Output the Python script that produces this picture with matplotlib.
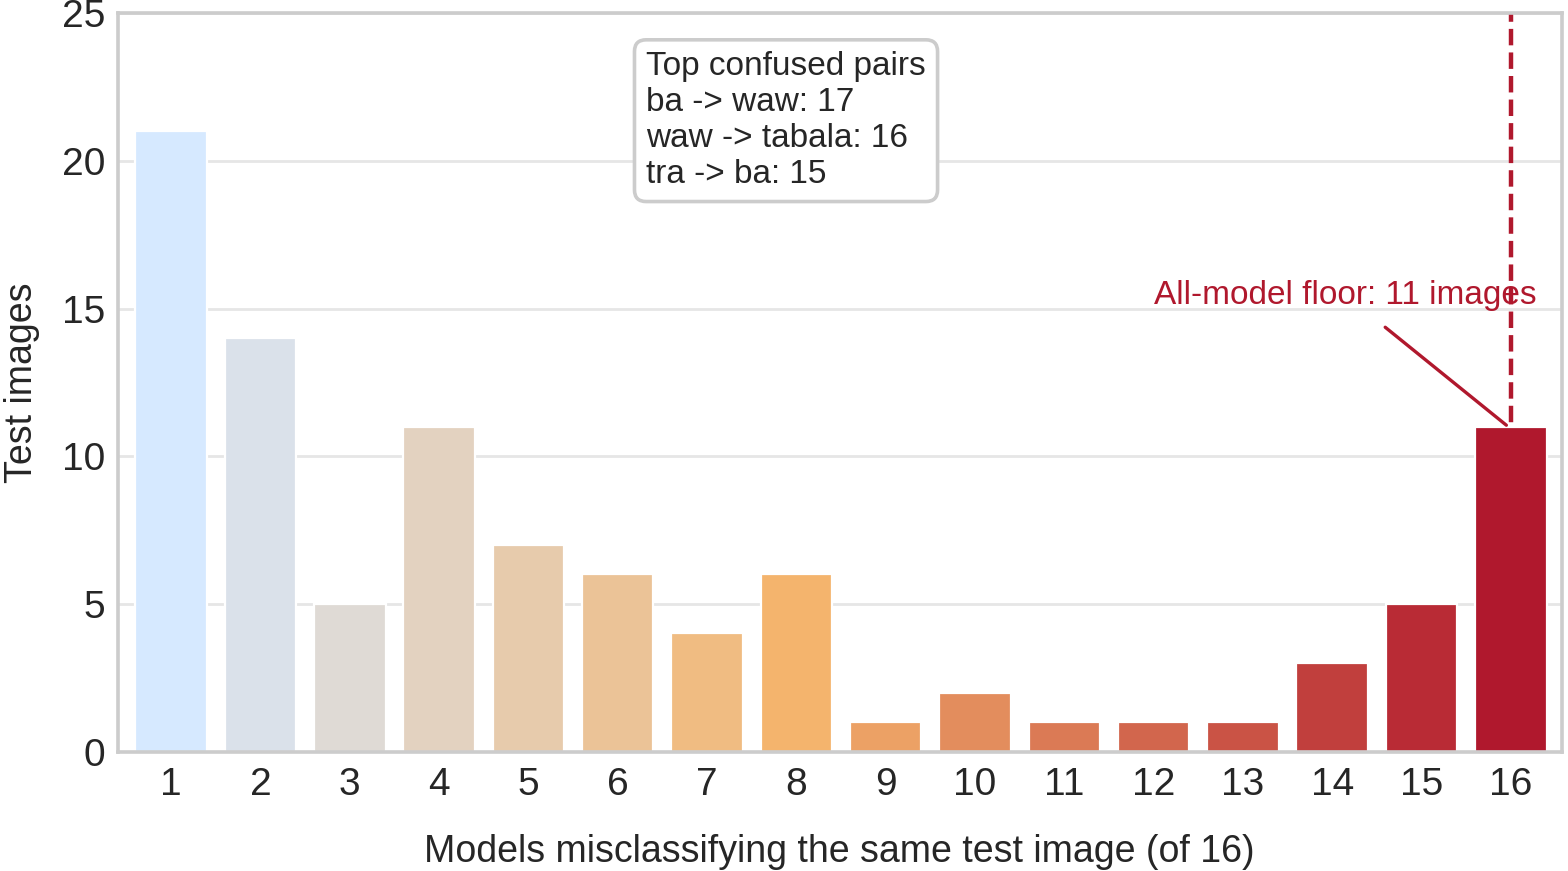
import numpy as np
import matplotlib
matplotlib.use("Agg")
import matplotlib.pyplot as plt
import seaborn as sns
from matplotlib.colors import LinearSegmentedColormap

n_models = np.arange(1, 17)
test_images = [21, 14, 5, 11, 7, 6, 4, 6, 1, 2, 1, 1, 1, 3, 5, 11]
pairs = ["ba -> waw: 17", "waw -> tabala: 16", "tra -> ba: 15"]
floor_count = 11

sns.set_theme(style="whitegrid")
plt.rcParams['font.family'] = ['Liberation Sans', 'DejaVu Sans']
plt.rcParams['text.color'] = '#262626'

red = '#b0182d'
cmap = LinearSegmentedColormap.from_list('c', [(0, '#d6e9ff'), (7/15, '#f4b46d'), (1, red)])
colors = [cmap(i / 15) for i in range(16)]

fig, ax = plt.subplots(figsize=(7.84, 4.355), dpi=200)
pos = np.arange(len(n_models))
ax.bar(pos, test_images, width=0.8, color=colors, edgecolor='white', linewidth=0.8, zorder=2)
ax.axvline(pos[-1], color=red, ls='--', lw=1.6, zorder=1)

ax.set_xlim(-0.6, 15.57)
ax.set_ylim(0, 25)
ax.set_yticks([0, 5, 10, 15, 20, 25])
ax.set_xticks(pos)
ax.set_xticklabels([str(v) for v in n_models])
ax.grid(axis='x', visible=False)
ax.grid(axis='y', color='#e6e6e6', lw=1, zorder=0)
ax.set_axisbelow(True)
for s in ax.spines.values():
    s.set_color('#cccccc')
    s.set_linewidth(1.3)
ax.tick_params(labelsize=14, colors='#262626', length=0, pad=4.5)
ax.tick_params(axis='x', pad=5.5)
ax.set_xlabel("Models misclassifying the same test image (of 16)", fontsize=13.5, labelpad=11)
ax.set_ylabel("Test images", fontsize=13.5, labelpad=8)

ax.annotate(f"All-model floor: {floor_count} images", xy=(pos[-1] - 0.05, floor_count + 0.05),
            xytext=(13.15, 15.45), ha='center', va='center', color=red, fontsize=12,
            arrowprops=dict(arrowstyle='-', color=red, lw=1.2, shrinkA=6, shrinkB=0))

ax.text(0.366, 0.948, "Top confused pairs\n" + "\n".join(pairs), transform=ax.transAxes,
        ha='left', va='top', fontsize=12, linespacing=1.2,
        bbox=dict(boxstyle='round,pad=0.35', fc='white', ec='#cccccc', lw=1.3))

fig.subplots_adjust(left=0.075, right=0.996, top=0.985, bottom=0.137)
fig.savefig("out.png", dpi=200)
